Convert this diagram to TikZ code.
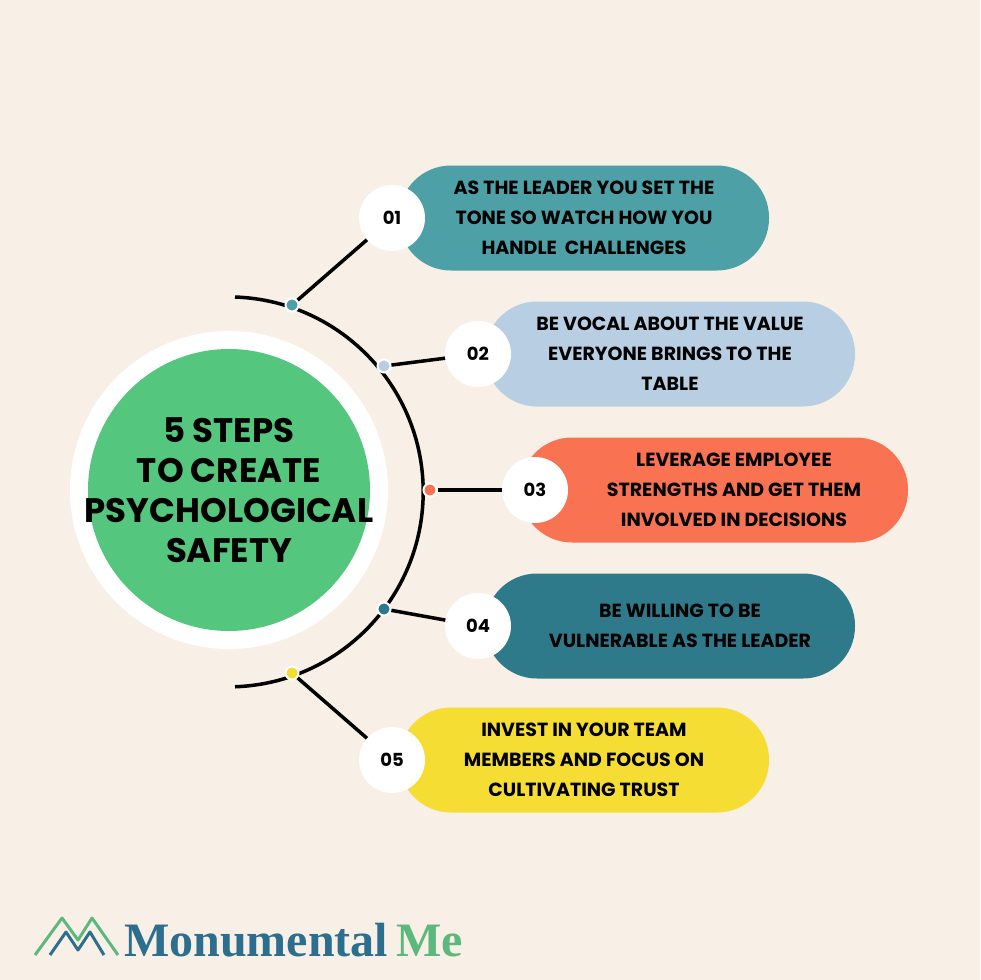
\documentclass[tikz,border=0pt]{standalone}
\usepackage{fontspec}
\setmainfont{Poppins}
\newfontfamily\logofont{Liberation Serif}
\usetikzlibrary{positioning}
\definecolor{bgcream}{HTML}{F8F0E6}
\definecolor{stepgreen}{HTML}{55C67E}
\definecolor{stepteal}{HTML}{4CA0A6}
\definecolor{stepblue}{HTML}{B8CFE3}
\definecolor{steporange}{HTML}{F97352}
\definecolor{stepdark}{HTML}{2F7A8A}
\definecolor{stepyellow}{HTML}{F5DD33}
\definecolor{logoblue}{HTML}{2C6E8E}
\definecolor{logogreen}{HTML}{5DB87E}
\tikzset{
  pill/.style={fill=#1, rounded corners=52pt, minimum width=370pt, minimum height=105pt,
    align=center, font=\fontsize{19}{30}\selectfont\bfseries, text=black},
  numdot/.style={circle, fill=white, minimum size=66pt, inner sep=0pt,
    font=\fontsize{18}{20}\selectfont\bfseries},
  arcdot/.style={circle, fill=#1, draw=white, line width=2pt, minimum size=13pt, inner sep=0pt},
  link/.style={line width=3.5pt, black}
}
\begin{document}
\begin{tikzpicture}[x=1pt,y=-1pt]
\fill[bgcream] (0,0) rectangle (980,980);
\useasboundingbox (0,0) rectangle (980,980);
% centre circle
\node[circle, fill=white, minimum size=318pt] (ring) at (229,490) {};
\node[circle, fill=stepgreen, minimum size=282pt] (disc) at (229,490) {};
\node[align=center, font=\fontsize{34}{40}\selectfont\bfseries] (title) at (disc)
  {5 STEPS\\TO CREATE\\PSYCHOLOGICAL\\SAFETY};
% arc
\draw[link] (235,297) arc[start angle=-88, end angle=88, radius=195];
% steps
\node[pill=stepteal] (s1) at (584,218) {AS THE LEADER YOU SET THE\\TONE SO WATCH HOW YOU\\HANDLE\ \ CHALLENGES};
\node[pill=stepblue] (s2) at (670,354) {BE VOCAL ABOUT THE VALUE\\EVERYONE BRINGS TO THE\\TABLE};
\node[pill=steporange, minimum width=388pt] (s3) at (714,490) {};
\node[pill=stepdark] (s4) at (670,626) {};
\node[pill=stepyellow] (s5) at (584,760) {INVEST IN YOUR TEAM\\MEMBERS AND FOCUS ON\\CULTIVATING TRUST};
\node[align=center, font=\fontsize{19}{30}\selectfont\bfseries] (t3) at (734,490)
  {LEVERAGE EMPLOYEE\\STRENGTHS AND GET THEM\\INVOLVED IN DECISIONS};
\node[align=center, font=\fontsize{19}{30}\selectfont\bfseries] (t4) at (680,626)
  {BE WILLING TO BE\\VULNERABLE AS THE LEADER};
\node[numdot] (n1) at (392,218) {01};
\node[numdot] (n2) at (478,354) {02};
\node[numdot] (n3) at (535,490) {03};
\node[numdot] (n4) at (478,626) {04};
\node[numdot] (n5) at (392,760) {05};
\node[arcdot=stepteal] (d1) at (292,305) {};
\node[arcdot=stepblue] (d2) at (384,366) {};
\node[arcdot=steporange] (d3) at (430,490) {};
\node[arcdot=stepdark] (d4) at (384,609) {};
\node[arcdot=stepyellow] (d5) at (292,673) {};
\foreach \i in {1,...,5}
  \draw[link] (d\i) -- (n\i);
% logo
\draw[logogreen, line width=3pt, line join=round]
  (35,955) -- (62,918) -- (78,940) -- (92,918) -- (118,955);
\draw[logoblue, line width=3pt, line join=round]
  (50,955) -- (66,932) -- (78,950) -- (90,932) -- (104,955);
\node[anchor=west, inner sep=0pt, font=\logofont\bfseries\fontsize{48}{48}\selectfont] (logo) at (124,940)
  {\textcolor{logoblue}{Monumental}\,\textcolor{logogreen}{Me}};
\end{tikzpicture}
\end{document}
